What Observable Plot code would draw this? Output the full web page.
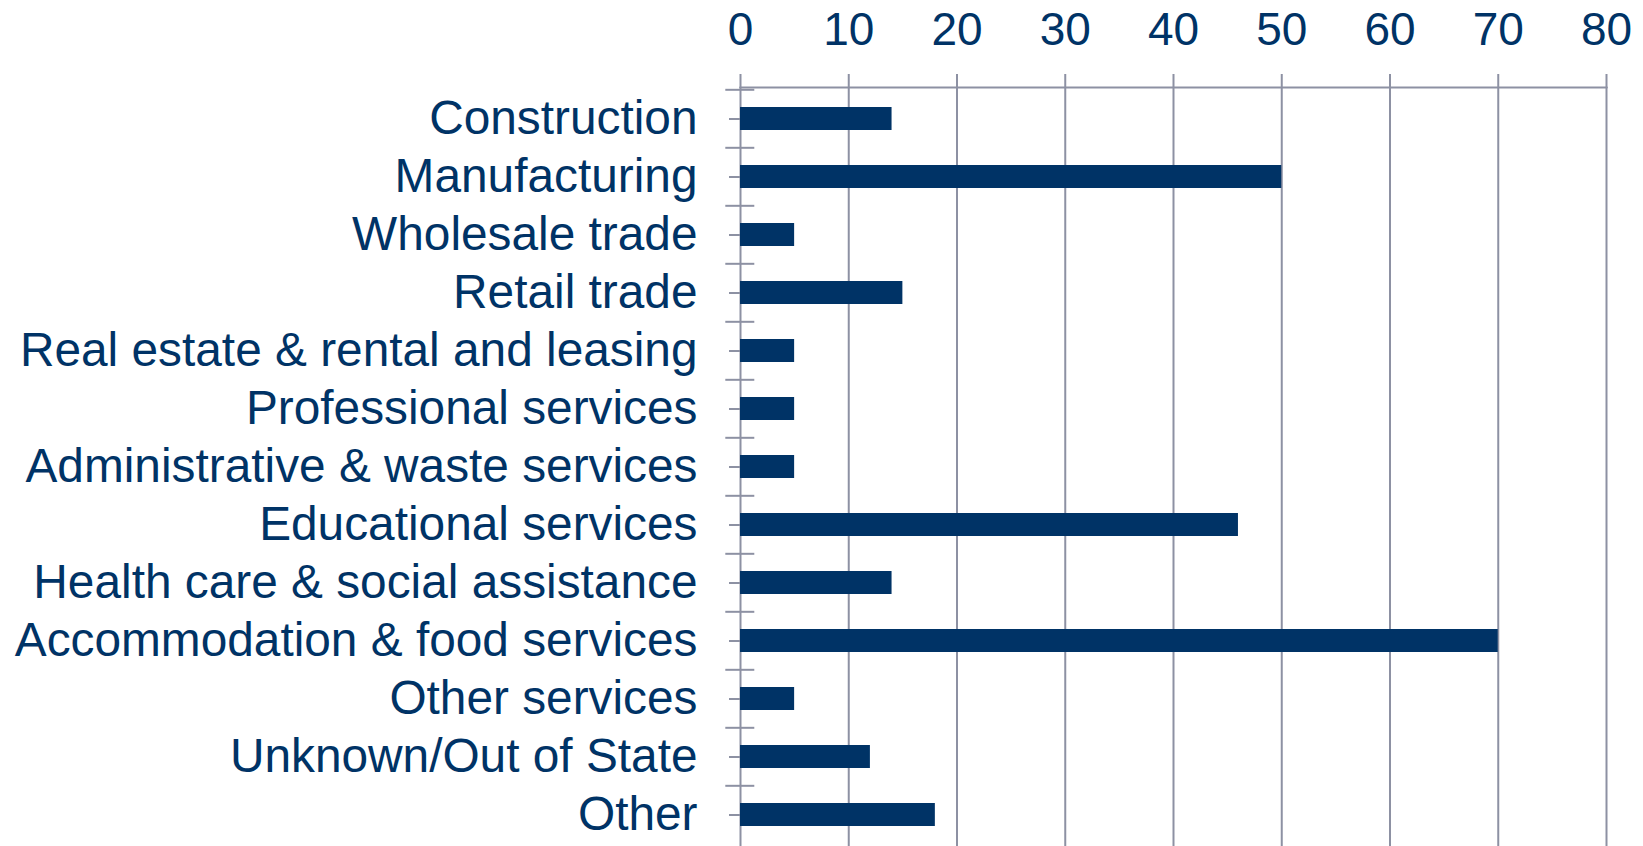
<!DOCTYPE html>
<html>
<head>
<meta charset="utf-8">
<script src="https://cdn.jsdelivr.net/npm/d3@7"></script>
<script src="https://cdn.jsdelivr.net/npm/@observablehq/plot@0.6"></script>
<style>
  html, body { margin: 0; padding: 0; background: #ffffff; }
  #chart svg { display: block; max-width: none; }
</style>
</head>
<body>
<div id="chart"></div>
<script>
const categories = [
  "Construction",
  "Manufacturing",
  "Wholesale trade",
  "Retail trade",
  "Real estate & rental and leasing",
  "Professional services",
  "Administrative & waste services",
  "Educational services",
  "Health care & social assistance",
  "Accommodation & food services",
  "Other services",
  "Unknown/Out of State",
  "Other"
];
const values = [14, 50, 5, 15, 5, 5, 5, 46, 14, 70, 5, 12, 18];
const xTicks = [0, 10, 20, 30, 40, 50, 60, 70, 80];

const navy = "#003366";
const gridColor = "#8d91a3";
const W = 1643, H = 846, MT = 87, MB = 0, ML = 740, MR = 37;
const step = (H - MT - MB) / categories.length;

const data = categories.map((c, i) => ({category: c, value: values[i]}));

const chart = Plot.plot({
  width: W,
  height: H,
  marginTop: MT,
  marginBottom: MB,
  marginLeft: ML,
  marginRight: MR,
  style: {fontFamily: "'Liberation Sans', Arial, sans-serif", background: "#ffffff", color: navy},
  x: {domain: [0, 80], axis: null},
  y: {domain: categories, paddingInner: 0.6, paddingOuter: 0.3, axis: null},
  marks: [
    Plot.gridX(xTicks, {stroke: gridColor, strokeOpacity: 1, strokeWidth: 2}),
    Plot.frame({anchor: "top", stroke: gridColor, strokeWidth: 2}),
    Plot.axisX(xTicks, {anchor: "top", label: null, tickSize: 14, tickPadding: 29, fontSize: 46, stroke: gridColor, strokeWidth: 2, fill: navy}),
    Plot.axisY({anchor: "left", label: null, tickSize: 29, dx: 14.3, dy: -step / 2, tickFormat: () => "", stroke: gridColor, strokeWidth: 2}),
    Plot.axisY({anchor: "left", label: null, tickSize: 11, tickPadding: 32, fontSize: 47.8, stroke: gridColor, strokeWidth: 2, fill: navy}),
    Plot.barX(data, {x: "value", y: "category", fill: navy})
  ]
});
document.getElementById("chart").appendChild(chart);
</script>
</body>
</html>
